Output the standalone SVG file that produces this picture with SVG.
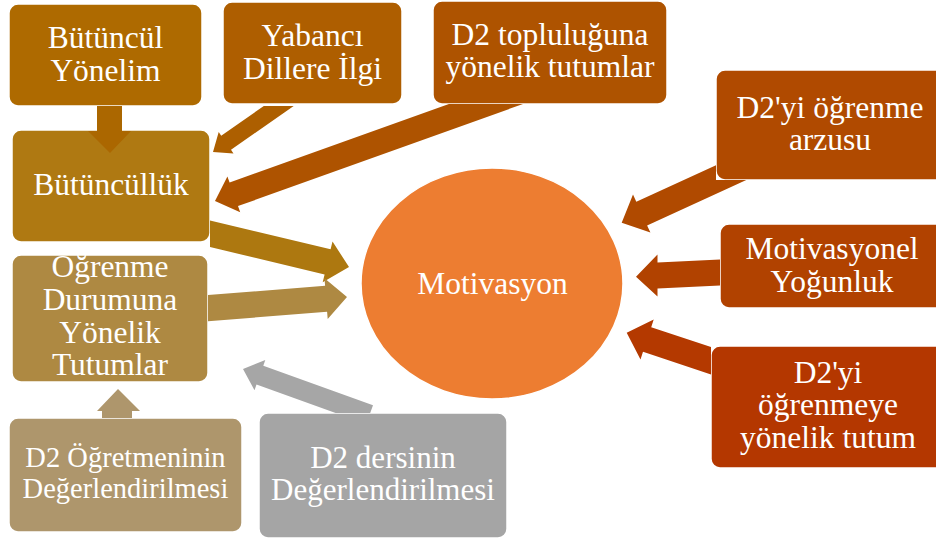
<svg xmlns="http://www.w3.org/2000/svg" width="936" height="540" viewBox="0 0 936 540">
<style>
.box{stroke:#FFFFFF;stroke-width:1.5}
text{font-family:'Liberation Serif','Times New Roman','DejaVu Serif',serif;font-size:31.5px;fill:#FFFFFF;text-anchor:middle}
.s{font-size:28.5px}
.m{font-size:31px}
</style>
<rect width="936" height="540" fill="#FFFFFF"/>
<g id="nodes">
<g id="butuncul-yonelim"><rect class="box" x="9" y="4" width="193" height="102" rx="9" fill="#AE6A00"/><text x="105.5" y="48">Bütüncül</text><text x="105.5" y="81">Yönelim</text></g>
<g id="yabanci-dillere-ilgi"><rect class="box" x="223" y="2" width="179" height="102" rx="9" fill="#AE5E00"/><text x="312.5" y="46">Yabancı</text><text x="312.5" y="79">Dillere İlgi</text></g>
<g id="d2-toplulugu"><rect class="box" x="433" y="1" width="234" height="103" rx="9" fill="#AE5300"/><text x="550" y="45">D2 topluluğuna</text><text x="550" y="77">yönelik tutumlar</text></g>
<g id="butunculluk"><rect class="box" x="12" y="130" width="198" height="112" rx="9" fill="#AF7912"/><text x="111" y="195">Bütüncüllük</text></g>
<g id="ogrenme-durumu"><rect class="box" x="12" y="255" width="196" height="127" rx="9" fill="#AE8942"/><text x="110" y="277">Öğrenme</text><text x="110" y="310">Durumuna</text><text x="110" y="343">Yönelik</text><text x="110" y="375">Tutumlar</text></g>
<g id="d2-ogretmen"><rect class="box" x="9" y="418" width="233" height="114" rx="9" fill="#AE966C"/><text class="s" x="125.5" y="467">D2 Öğretmeninin</text><text class="s" x="125.5" y="498">Değerlendirilmesi</text></g>
<g id="d2-ders"><rect class="box" x="259" y="413" width="248" height="125" rx="9" fill="#A5A5A5"/><text class="m" x="383" y="468">D2 dersinin</text><text class="m" x="383" y="500">Değerlendirilmesi</text></g>
<g id="motivasyon"><ellipse class="box" cx="492" cy="283.5" rx="131" ry="115.5" fill="#ED7D31"/><text x="492.5" y="294">Motivasyon</text></g>
<g id="ogrenme-arzusu"><rect class="box" x="716" y="70" width="228" height="110" rx="9" fill="#B04A00"/><text x="830" y="118">D2'yi öğrenme</text><text x="830" y="150">arzusu</text></g>
<g id="motivasyonel-yogunluk"><rect class="box" x="720" y="224" width="224" height="84" rx="9" fill="#B14200"/><text x="832" y="259">Motivasyonel</text><text x="832" y="292">Yoğunluk</text></g>
<g id="ogrenmeye-tutum"><rect class="box" x="711" y="346" width="233" height="122" rx="9" fill="#B43700"/><text x="828" y="383">D2'yi</text><text x="828" y="415">öğrenmeye</text><text x="828" y="448">yönelik tutum</text></g>
</g>
<g id="connectors">
<polygon fill="#AB6700" points="97,106 122,106 122,131 131,131 110,153 88,131 97,131"/>
<polygon fill="#AD5F00" points="263.8,106 293.7,106 231,149.8 233.5,153.5 213,152 218.7,132.1 221.2,135.8"/>
<polygon fill="#AE5300" points="448.9,104 523,104 238,206.1 240.2,212.2 215,201 227.4,176.4 229.6,182.5"/>
<polygon fill="#AD7810" points="210,220.4 330.6,249.3 332.5,241.5 349,267 322.7,282.3 324.6,274.5 210,247"/>
<polygon fill="#AE8942" points="208,295.1 325.1,285.7 324.5,278.3 347,297 327.7,319.1 327.1,311.7 208,321.3"/>
<polygon fill="#AE966C" points="102,418 132,418 132,411 140,411 118,389 97,411 102,411"/>
<polygon fill="#A6A6A6" points="263.3,365.7 373,405.2 370.2,413 335.6,413 256.5,384.5 254.5,390.2 243,369 265.3,360"/>
<polygon fill="#B04A00" points="716,165.2 716,180 746.3,180 647.1,225.4 650.4,232.6 621.7,222.7 633,194.5 636.3,201.7"/>
<polygon fill="#B14200" points="720,259.5 657.5,262.6 657.5,254.6 636,276.7 657.5,296.6 657.5,288.6 720,285.5"/>
<polygon fill="#B43900" points="711,347.1 651.2,327.2 653.7,319.6 626.7,332.7 640.5,359.4 643,351.8 711,374.4"/>
</g>
</svg>
